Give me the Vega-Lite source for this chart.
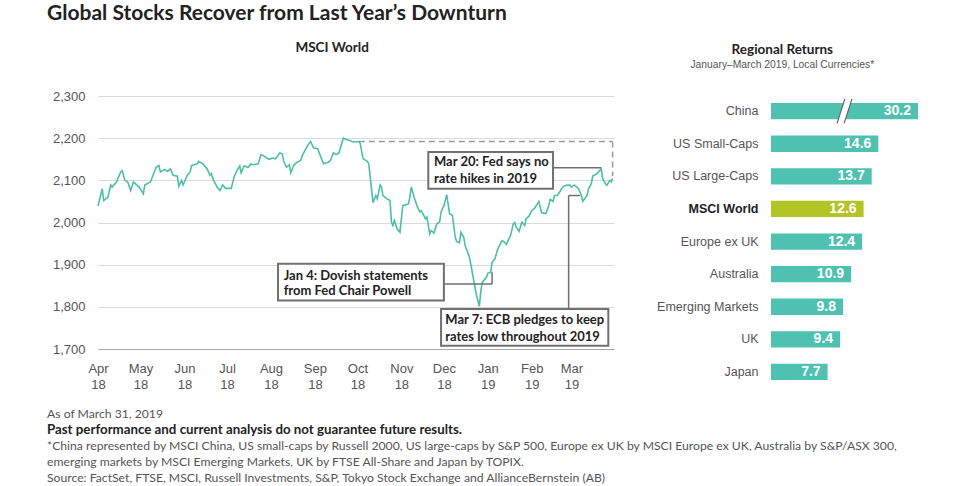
{
  "$schema": "https://vega.github.io/schema/vega-lite/v6.json",
  "background": "white",
  "padding": {"left": 47, "top": 2, "right": 5, "bottom": 0},
  "title": {
    "text": "Global Stocks Recover from Last Year’s Downturn",
    "anchor": "start",
    "font": "Lato",
    "fontSize": 21,
    "fontWeight": "bold",
    "color": "#222222",
    "offset": 17
  },
  "spacing": 15.5,
  "vconcat": [
    {
      "spacing": 40,
      "hconcat": [
        {
          "width": 516,
          "height": 253,
          "title": {
            "text": "MSCI World",
            "anchor": "middle",
            "frame": "bounds",
            "font": "Lato",
            "fontSize": 13.5,
            "fontWeight": "bold",
            "color": "#222222",
            "offset": 36,
            "dx": -2
          },
          "encoding": {
            "x": {
              "field": "date",
              "type": "temporal",
              "scale": {
                "type": "utc",
                "domain": [
                  {"year": 2018, "month": 4, "date": 1, "utc": true},
                  {"year": 2019, "month": 3, "date": 31, "utc": true}
                ],
                "nice": false
              },
              "axis": {
                "title": null,
                "grid": false,
                "domain": true,
                "domainColor": "#a8a8a8",
                "domainWidth": 1,
                "ticks": false,
                "tickCount": {"interval": "month", "step": 1},
                "labelExpr": "[utcFormat(datum.value, '%b'), utcFormat(datum.value, '%y')]",
                "labelPadding": 13,
                "labelFontSize": 13,
                "labelColor": "#555555",
                "labelLineHeight": 16.5,
                "labelFlush": false,
                "labelOverlap": false
              }
            },
            "y": {
              "field": "value",
              "type": "quantitative",
              "scale": {"domain": [1700, 2300], "zero": false, "nice": false},
              "axis": {
                "title": null,
                "values": [1700, 1800, 1900, 2000, 2100, 2200, 2300],
                "format": ",.0f",
                "domain": false,
                "ticks": false,
                "labelPadding": 13,
                "labelFontSize": 13,
                "labelColor": "#555555",
                "gridColor": "#dadada"
              }
            }
          },
          "layer": [
            {
              "data": {"values": [
                {"date": "2018-04-01", "value": 2039}, {"date": "2018-04-04", "value": 2080}, {"date": "2018-04-05", "value": 2052}, {"date": "2018-04-08", "value": 2060}, {"date": "2018-04-10", "value": 2089}, {"date": "2018-04-11", "value": 2084}, {"date": "2018-04-14", "value": 2096}, {"date": "2018-04-17", "value": 2120}, {"date": "2018-04-18", "value": 2123}, {"date": "2018-04-20", "value": 2100}, {"date": "2018-04-22", "value": 2096}, {"date": "2018-04-24", "value": 2076}, {"date": "2018-04-26", "value": 2096}, {"date": "2018-04-30", "value": 2084},
                {"date": "2018-05-03", "value": 2068}, {"date": "2018-05-04", "value": 2089}, {"date": "2018-05-08", "value": 2096}, {"date": "2018-05-09", "value": 2105}, {"date": "2018-05-12", "value": 2131}, {"date": "2018-05-14", "value": 2135}, {"date": "2018-05-15", "value": 2120}, {"date": "2018-05-18", "value": 2126}, {"date": "2018-05-20", "value": 2121}, {"date": "2018-05-22", "value": 2127}, {"date": "2018-05-24", "value": 2112}, {"date": "2018-05-27", "value": 2110}, {"date": "2018-05-28", "value": 2086}, {"date": "2018-05-30", "value": 2100}, {"date": "2018-05-31", "value": 2089},
                {"date": "2018-06-03", "value": 2112}, {"date": "2018-06-05", "value": 2120}, {"date": "2018-06-06", "value": 2135}, {"date": "2018-06-10", "value": 2139}, {"date": "2018-06-11", "value": 2145}, {"date": "2018-06-14", "value": 2139}, {"date": "2018-06-17", "value": 2127}, {"date": "2018-06-19", "value": 2112}, {"date": "2018-06-20", "value": 2116}, {"date": "2018-06-21", "value": 2104}, {"date": "2018-06-24", "value": 2084}, {"date": "2018-06-26", "value": 2076}, {"date": "2018-06-28", "value": 2089}, {"date": "2018-06-30", "value": 2081},
                {"date": "2018-07-04", "value": 2081}, {"date": "2018-07-06", "value": 2108}, {"date": "2018-07-08", "value": 2123}, {"date": "2018-07-10", "value": 2134}, {"date": "2018-07-11", "value": 2118}, {"date": "2018-07-13", "value": 2134}, {"date": "2018-07-16", "value": 2131}, {"date": "2018-07-18", "value": 2139}, {"date": "2018-07-19", "value": 2137}, {"date": "2018-07-23", "value": 2139}, {"date": "2018-07-25", "value": 2161}, {"date": "2018-07-27", "value": 2158}, {"date": "2018-07-29", "value": 2153}, {"date": "2018-07-31", "value": 2150},
                {"date": "2018-08-02", "value": 2153}, {"date": "2018-08-04", "value": 2151}, {"date": "2018-08-06", "value": 2158}, {"date": "2018-08-07", "value": 2165}, {"date": "2018-08-09", "value": 2163}, {"date": "2018-08-10", "value": 2145}, {"date": "2018-08-12", "value": 2131}, {"date": "2018-08-14", "value": 2137}, {"date": "2018-08-15", "value": 2118}, {"date": "2018-08-17", "value": 2135}, {"date": "2018-08-19", "value": 2142}, {"date": "2018-08-22", "value": 2147}, {"date": "2018-08-23", "value": 2158}, {"date": "2018-08-25", "value": 2171}, {"date": "2018-08-27", "value": 2183}, {"date": "2018-08-29", "value": 2192}, {"date": "2018-08-31", "value": 2177},
                {"date": "2018-09-03", "value": 2175}, {"date": "2018-09-07", "value": 2139}, {"date": "2018-09-10", "value": 2142}, {"date": "2018-09-12", "value": 2147}, {"date": "2018-09-14", "value": 2165}, {"date": "2018-09-16", "value": 2161}, {"date": "2018-09-18", "value": 2165}, {"date": "2018-09-21", "value": 2200}, {"date": "2018-09-23", "value": 2197}, {"date": "2018-09-25", "value": 2195}, {"date": "2018-09-28", "value": 2191},
                {"date": "2018-10-02", "value": 2192}, {"date": "2018-10-03", "value": 2187}, {"date": "2018-10-05", "value": 2151}, {"date": "2018-10-08", "value": 2145}, {"date": "2018-10-09", "value": 2139}, {"date": "2018-10-12", "value": 2047}, {"date": "2018-10-14", "value": 2064}, {"date": "2018-10-15", "value": 2056}, {"date": "2018-10-17", "value": 2089}, {"date": "2018-10-18", "value": 2084}, {"date": "2018-10-19", "value": 2064}, {"date": "2018-10-22", "value": 2056}, {"date": "2018-10-24", "value": 2052}, {"date": "2018-10-25", "value": 2001}, {"date": "2018-10-26", "value": 1993}, {"date": "2018-10-27", "value": 2005}, {"date": "2018-10-29", "value": 1985}, {"date": "2018-10-31", "value": 1977},
                {"date": "2018-11-02", "value": 2040}, {"date": "2018-11-04", "value": 2042}, {"date": "2018-11-06", "value": 2044}, {"date": "2018-11-07", "value": 2060}, {"date": "2018-11-08", "value": 2084}, {"date": "2018-11-10", "value": 2060}, {"date": "2018-11-12", "value": 2040}, {"date": "2018-11-14", "value": 2025}, {"date": "2018-11-15", "value": 2028}, {"date": "2018-11-18", "value": 2009}, {"date": "2018-11-19", "value": 2013}, {"date": "2018-11-21", "value": 1973}, {"date": "2018-11-22", "value": 1981}, {"date": "2018-11-24", "value": 1975}, {"date": "2018-11-26", "value": 1997}, {"date": "2018-11-28", "value": 2001}, {"date": "2018-11-29", "value": 2025},
                {"date": "2018-12-01", "value": 2040}, {"date": "2018-12-03", "value": 2066}, {"date": "2018-12-05", "value": 2021}, {"date": "2018-12-07", "value": 2017}, {"date": "2018-12-09", "value": 1965}, {"date": "2018-12-10", "value": 1955}, {"date": "2018-12-12", "value": 1952}, {"date": "2018-12-13", "value": 1977}, {"date": "2018-12-15", "value": 1965}, {"date": "2018-12-16", "value": 1945}, {"date": "2018-12-19", "value": 1918}, {"date": "2018-12-21", "value": 1882}, {"date": "2018-12-24", "value": 1827}, {"date": "2018-12-26", "value": 1801}, {"date": "2018-12-27", "value": 1835}, {"date": "2018-12-28", "value": 1858}, {"date": "2018-12-31", "value": 1870},
                {"date": "2019-01-01", "value": 1880}, {"date": "2019-01-03", "value": 1882}, {"date": "2019-01-04", "value": 1906}, {"date": "2019-01-06", "value": 1914}, {"date": "2019-01-08", "value": 1937}, {"date": "2019-01-11", "value": 1957}, {"date": "2019-01-13", "value": 1953}, {"date": "2019-01-14", "value": 1948}, {"date": "2019-01-17", "value": 1969}, {"date": "2019-01-19", "value": 1997}, {"date": "2019-01-20", "value": 2000}, {"date": "2019-01-21", "value": 1989}, {"date": "2019-01-23", "value": 1979}, {"date": "2019-01-25", "value": 2001}, {"date": "2019-01-27", "value": 1993}, {"date": "2019-01-28", "value": 2009}, {"date": "2019-01-30", "value": 2015},
                {"date": "2019-02-01", "value": 2028}, {"date": "2019-02-03", "value": 2034}, {"date": "2019-02-06", "value": 2050}, {"date": "2019-02-07", "value": 2036}, {"date": "2019-02-08", "value": 2023}, {"date": "2019-02-11", "value": 2021}, {"date": "2019-02-13", "value": 2040}, {"date": "2019-02-14", "value": 2055}, {"date": "2019-02-16", "value": 2050}, {"date": "2019-02-17", "value": 2064}, {"date": "2019-02-19", "value": 2064}, {"date": "2019-02-21", "value": 2074}, {"date": "2019-02-22", "value": 2080}, {"date": "2019-02-23", "value": 2084}, {"date": "2019-02-25", "value": 2088}, {"date": "2019-02-28", "value": 2089},
                {"date": "2019-03-01", "value": 2084}, {"date": "2019-03-03", "value": 2089}, {"date": "2019-03-06", "value": 2080}, {"date": "2019-03-08", "value": 2064}, {"date": "2019-03-09", "value": 2050}, {"date": "2019-03-12", "value": 2064}, {"date": "2019-03-13", "value": 2080}, {"date": "2019-03-15", "value": 2092}, {"date": "2019-03-16", "value": 2110}, {"date": "2019-03-19", "value": 2116}, {"date": "2019-03-20", "value": 2120}, {"date": "2019-03-22", "value": 2127}, {"date": "2019-03-23", "value": 2104}, {"date": "2019-03-25", "value": 2092}, {"date": "2019-03-26", "value": 2088}, {"date": "2019-03-28", "value": 2100}, {"date": "2019-03-29", "value": 2096}, {"date": "2019-03-30", "value": 2105}
              ]},
              "mark": {"type": "line", "color": "#4cbfaa", "strokeWidth": 1.6}
            },
            {
              "data": {"values": [
                {"date": "2018-10-02", "date2": "2019-03-30", "value": 2192, "value2": 2192},
                {"date": "2019-03-30", "date2": "2019-03-30", "value": 2192, "value2": 2110}
              ]},
              "mark": {"type": "rule", "color": "#9a9a9a", "strokeWidth": 1.5, "strokeDash": [6, 4]},
              "encoding": {"x2": {"field": "date2"}, "y2": {"field": "value2"}}
            },
            {
              "data": {"values": [
                {"date": "2018-12-01", "date2": "2019-01-04", "value": 1854, "value2": 1854},
                {"date": "2019-01-04", "date2": "2019-01-04", "value": 1854, "value2": 1882},
                {"date": "2019-02-16", "date2": "2019-03-22", "value": 2130, "value2": 2130},
                {"date": "2019-02-27", "date2": "2019-02-27", "value": 1795, "value2": 2064},
                {"date": "2019-02-27", "date2": "2019-03-07", "value": 2064, "value2": 2064}
              ]},
              "mark": {"type": "rule", "color": "#707070", "strokeWidth": 1.5},
              "encoding": {"x2": {"field": "date2"}, "y2": {"field": "value2"}}
            },
            {
              "data": {"values": [
                {"date": "2018-08-06", "date2": "2018-12-01", "value": 1902, "value2": 1815},
                {"date": "2018-11-20", "date2": "2019-02-16", "value": 2167, "value2": 2080},
                {"date": "2018-11-29", "date2": "2019-03-27", "value": 1795, "value2": 1708}
              ]},
              "mark": {"type": "rect", "fill": "white", "stroke": "#707070", "strokeWidth": 2},
              "encoding": {"x2": {"field": "date2"}, "y2": {"field": "value2"}}
            },
            {
              "data": {"values": [
                {"date": "2018-08-10", "value": 1864, "note": "Jan 4: Dovish statements"},
                {"date": "2018-08-10", "value": 1828, "note": "from Fed Chair Powell"},
                {"date": "2018-11-24", "value": 2134, "note": "Mar 20: Fed says no"},
                {"date": "2018-11-24", "value": 2094, "note": "rate hikes in 2019"},
                {"date": "2018-12-02", "value": 1759, "note": "Mar 7: ECB pledges to keep"},
                {"date": "2018-12-02", "value": 1720, "note": "rates low throughout 2019"}
              ]},
              "mark": {"type": "text", "align": "left", "baseline": "alphabetic", "font": "Lato", "fontWeight": "bold", "fontSize": 13, "color": "#222222"},
              "encoding": {"text": {"field": "note"}}
            }
          ]
        },
        {
          "width": 147,
          "height": 291.1,
          "title": {
            "text": "Regional Returns",
            "subtitle": "January–March 2019, Local Currencies*",
            "anchor": "middle",
            "frame": "bounds",
            "font": "Lato",
            "fontSize": 13.5,
            "fontWeight": "bold",
            "color": "#222222",
            "subtitleFont": "Liberation Sans",
            "subtitleFontSize": 10.3,
            "subtitleColor": "#555555",
            "subtitlePadding": 3,
            "offset": 26,
            "dx": -5
          },
          "data": {"values": [
            {"region": "China", "ret": 30.2},
            {"region": "US Small-Caps", "ret": 14.6},
            {"region": "US Large-Caps", "ret": 13.7},
            {"region": "MSCI World", "ret": 12.6},
            {"region": "Europe ex UK", "ret": 12.4},
            {"region": "Australia", "ret": 10.9},
            {"region": "Emerging Markets", "ret": 9.8},
            {"region": "UK", "ret": 9.4},
            {"region": "Japan", "ret": 7.7}
          ]},
          "encoding": {
            "y": {
              "field": "region",
              "type": "nominal",
              "sort": null,
              "scale": {
                "domain": ["China", "US Small-Caps", "US Large-Caps", "MSCI World", "Europe ex UK", "Australia", "Emerging Markets", "UK", "Japan"],
                "paddingInner": 0.5,
                "paddingOuter": 0.215
              },
              "axis": {
                "title": null,
                "domain": false,
                "ticks": false,
                "labelPadding": 13,
                "labelFontSize": 12.5,
                "labelLimit": 200,
                "labelColor": {"condition": {"test": "datum.value === 'MSCI World'", "value": "#222222"}, "value": "#555555"},
                "labelFontWeight": {"condition": {"test": "datum.value === 'MSCI World'", "value": "bold"}, "value": "normal"}
              }
            },
            "x": {
              "field": "ret",
              "type": "quantitative",
              "scale": {"domain": [0, 20], "clamp": true, "nice": false},
              "axis": null
            }
          },
          "layer": [
            {
              "mark": {"type": "bar"},
              "encoding": {
                "color": {"condition": {"test": "datum.region === 'MSCI World'", "value": "#b3c524"}, "value": "#4fc1b0"}
              }
            },
            {
              "transform": [{"filter": "datum.region === 'China'"}],
              "mark": {"type": "point", "shape": "M0.03,-1 L0.61,-1 L-0.03,1 L-0.61,1 Z", "size": 600, "filled": true, "fill": "white", "opacity": 1, "strokeWidth": 0},
              "encoding": {"x": {"datum": 10}}
            },
            {
              "transform": [{"filter": "datum.region === 'China'"}],
              "mark": {"type": "point", "shape": "M0.03,-1 L-0.61,1 M0.61,-1 L-0.03,1", "size": 600, "filled": false, "stroke": "#666666", "opacity": 1, "strokeWidth": 1.2},
              "encoding": {"x": {"datum": 10}}
            },
            {
              "mark": {"type": "text", "align": "right", "baseline": "middle", "dx": -7, "font": "Liberation Sans", "fontWeight": "bold", "fontSize": 14, "color": "white"},
              "encoding": {"text": {"field": "ret", "type": "quantitative", "format": ".1f"}}
            }
          ]
        }
      ]
    },
    {
      "width": 860,
      "height": 64,
      "data": {"values": [
        {"n": 1, "line": "As of March 31, 2019"},
        {"n": 2, "line": "Past performance and current analysis do not guarantee future results."},
        {"n": 3, "line": "*China represented by MSCI China, US small-caps by Russell 2000, US large-caps by S&P 500, Europe ex UK by MSCI Europe ex UK, Australia by S&P/ASX 300,"},
        {"n": 4, "line": "emerging markets by MSCI Emerging Markets, UK by FTSE All-Share and Japan by TOPIX."},
        {"n": 5, "line": "Source: FactSet, FTSE, MSCI, Russell Investments, S&P, Tokyo Stock Exchange and AllianceBernstein (AB)"}
      ]},
      "encoding": {
        "y": {"field": "n", "type": "ordinal", "axis": null, "scale": {"type": "point", "domain": [1, 2, 3, 4, 5], "padding": 0}},
        "x": {"datum": 0, "type": "quantitative", "scale": {"domain": [0, 1]}, "axis": null},
        "text": {"field": "line"}
      },
      "layer": [
        {
          "transform": [{"filter": "datum.n !== 2"}],
          "mark": {"type": "text", "align": "left", "baseline": "middle", "dx": -51, "font": "Lato", "fontSize": 12.2, "color": "#555555"}
        },
        {
          "transform": [{"filter": "datum.n === 2"}],
          "mark": {"type": "text", "align": "left", "baseline": "middle", "dx": -51, "font": "Lato", "fontWeight": "bold", "fontSize": 13.3, "color": "#222222"}
        }
      ]
    }
  ],
  "config": {
    "view": {"stroke": null},
    "axis": {"labelFont": "Liberation Sans"},
    "title": {"font": "Lato"}
  }
}
